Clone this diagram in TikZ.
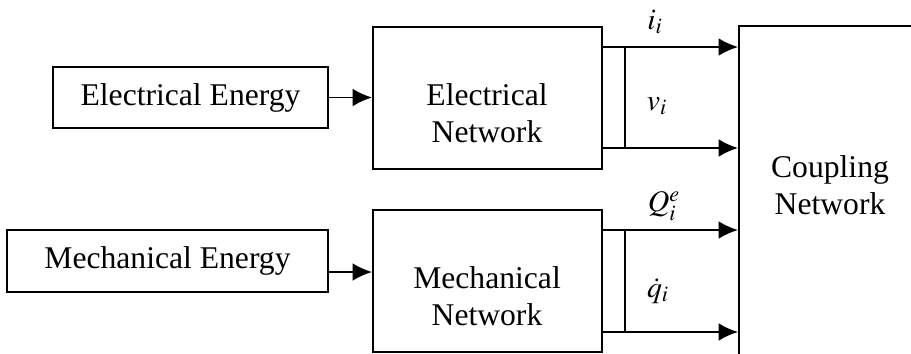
\documentclass[tikz,border=0pt]{standalone}
\usepackage{mathptmx}
\usepackage[no-math]{fontspec}
\setmainfont{Liberation Serif}
\usepackage{tikz}
\usetikzlibrary{arrows.meta,positioning}

\begin{document}
\begin{tikzpicture}[
    x=0.02cm, y=-0.02cm,
    font=\fontsize{18}{21}\selectfont,
    line width=1.1pt,
    flow/.style={-{Latex[length=11pt,width=10pt]}},
    source/.style={draw, minimum height=1.22cm, inner sep=0pt},
    netbox/.style={draw, minimum width=4.58cm, minimum height=2.84cm, inner sep=0pt},
    boxtext/.style={align=center, inner sep=0pt},
    signal/.style={font=\fontsize{17}{20}\selectfont, inner sep=0pt}
]
\useasboundingbox (0,0) rectangle (911,353);
\clip (0,0) rectangle (911,353);

\node[source, minimum width=5.5cm] (elecsrc) at (190.5,97.5) {Electrical Energy};
\node[source, minimum width=6.42cm, minimum height=1.24cm] (mechsrc) at (167.5,261) {Mechanical Energy};

\node[netbox] (elecnet) at (487.5,98) {};
\node[boxtext] (electext) at (487,113) {Electrical\\Network};
\node[netbox] (mechnet) at (487.5,281) {};
\node[boxtext] (mechtext) at (487,296) {Mechanical\\Network};

\node[draw, minimum width=3.64cm, minimum height=6.68cm, inner sep=0pt] (coupling) at (830,193) {};
\node[boxtext] (couptext) at (830,185) {Coupling\\Network};

\draw[flow] (elecsrc.east) -- (elecsrc.east -| elecnet.west);
\draw[flow] ([yshift=-0.22cm]mechsrc.east) -- ([yshift=-0.22cm]mechsrc.east -| mechnet.west);

% electrical outputs
\draw[flow] ([yshift=1.02cm]elecnet.east) -- ([yshift=1.02cm]elecnet.east -| coupling.west);
\draw[flow] ([yshift=-1.0cm]elecnet.east) -- ([yshift=-1.0cm]elecnet.east -| coupling.west);
\draw ([xshift=0.44cm,yshift=1.02cm]elecnet.east) -- ([xshift=0.44cm,yshift=-1.0cm]elecnet.east);
\node[signal] (current) at (655,22) {$i_{i}$};
\node[signal] (voltage) at (657,106) {$v_{i}$};

% mechanical outputs
\draw[flow] ([yshift=1.02cm]mechnet.east) -- ([yshift=1.02cm]mechnet.east -| coupling.west);
\draw[flow] ([yshift=-1.02cm]mechnet.east) -- ([yshift=-1.02cm]mechnet.east -| coupling.west);
\draw ([xshift=0.44cm,yshift=1.02cm]mechnet.east) -- ([xshift=0.44cm,yshift=-1.02cm]mechnet.east);
\node[signal] (force) at (664,206) {$Q_{i}^{e}$};
\node[signal] (speed) at (658,291) {$\dot{q}_{i}$};
\end{tikzpicture}
\end{document}
